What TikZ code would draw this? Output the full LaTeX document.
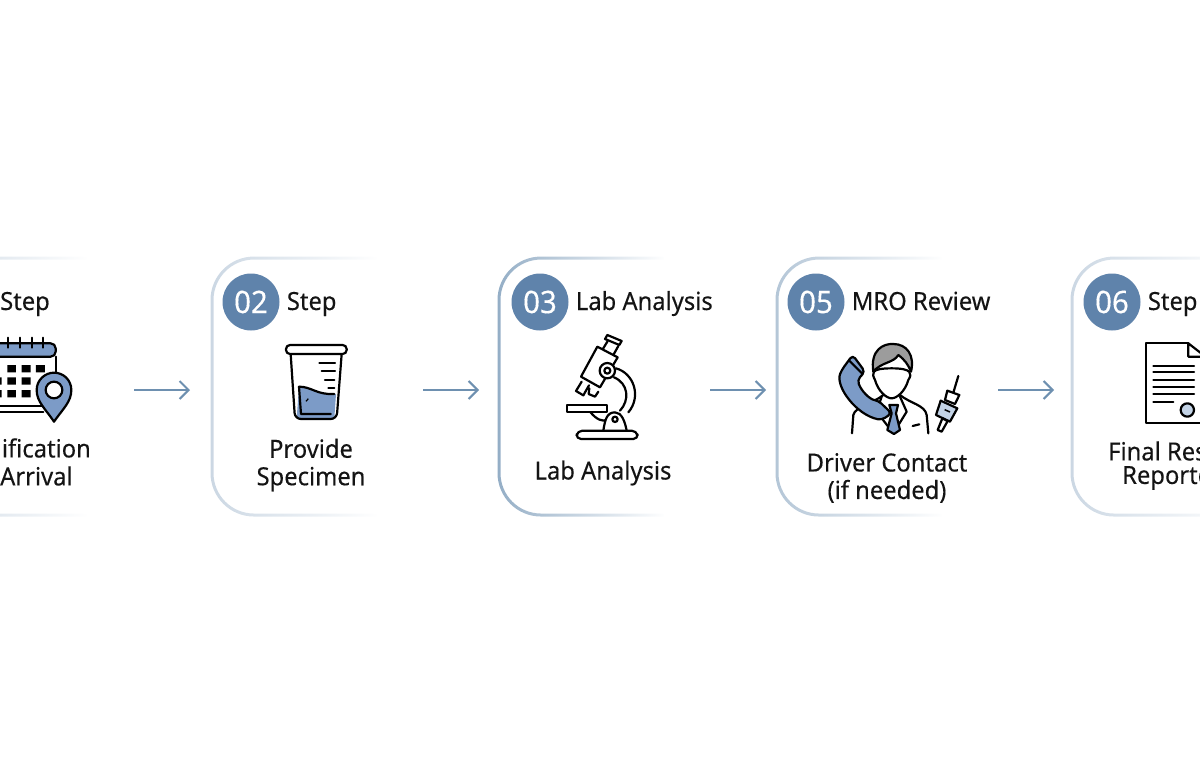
\documentclass[tikz,border=0pt]{standalone}
\usepackage{fontspec}
\setmainfont{Noto Sans}[FakeBold=0.25, FakeStretch=0.95]
\usetikzlibrary{positioning,arrows.meta,fadings}
\definecolor{cdpale}{HTML}{CBD7E3}
\definecolor{cdmid}{HTML}{B4C6D7}
\definecolor{cddark}{HTML}{94AEC6}
\definecolor{cmbadge}{HTML}{5F83AB}
\definecolor{cmicon}{HTML}{7C9BC7}
\definecolor{cmarrow}{HTML}{6E90B0}
\definecolor{cmink}{HTML}{141414}
\definecolor{cmhair}{HTML}{9C9C9C}
\definecolor{cmpale}{HTML}{C3D3E6}
\tikzfading[name=cardfade, left color=transparent!0, middle color=transparent!0, right color=transparent!100]
% card outline: left edge x, colour
\newcommand{\stepcard}[2]{
  \draw[line width=3pt, color=#2, rounded corners=42pt, path fading=cardfade] (#1+165,258) -- (#1,258) -- (#1,515) -- (#1+165,515);
}
\begin{document}
\begin{tikzpicture}[
  x=1pt, y=-1pt,
  node distance=7pt,
  badge/.style={circle, fill=cmbadge, text=white, minimum size=57pt, inner sep=0pt, font=\fontsize{31}{32}\selectfont},
  headtext/.style={inner sep=0pt, text=cmink, text height=18pt, text depth=2pt, font=\fontsize{25}{28}\selectfont},
  bodytext/.style={inner sep=0pt, text=cmink, align=center, font=\fontsize{25}{27.5}\selectfont},
  arr/.style={-{Straight Barb[length=9pt,width=18pt]}, line width=2pt, color=cmarrow},
  iconline/.style={line width=2.2pt, color=black, line join=round, line cap=round},
  iconzoom/.style={scale=1/3}
]
\useasboundingbox (0,0) rectangle (1200,768);

\stepcard{-78}{cdpale}
\stepcard{212}{cdpale}
\stepcard{499}{cddark}
\stepcard{777}{cdmid}
\stepcard{1072}{cdpale}

% headers
\node[headtext, anchor=west] (stepa) at (0,302) {Step};
\node[badge] (badgeb) at (251,302) {02};
\node[headtext, right=of badgeb] (stepb) {Step};
\node[badge] (badgec) at (540,302) {03};
\node[headtext, right=of badgec] (stepc) {Lab Analysis};
\node[badge] (badged) at (816,302) {05};
\node[headtext, right=of badged] (stepd) {MRO Review};
\node[badge] (badgee) at (1112,302) {06};
\node[headtext, right=of badgee] (stepe) {Step};

% body labels
\node[bodytext, anchor=east] (nota) at (91,448) {ification};
\node[bodytext, anchor=west] (arra) at (0,476) {Arrival};
\node[bodytext] (spec) at (311,465) {Provide\\Specimen};
\node[bodytext] (lab) at (603,473) {Lab Analysis};
\node[bodytext] (drv) at (887,478) {Driver Contact\\(if needed)};
\node[bodytext, anchor=west] (resa) at (1108,451) {Final Res};
\node[bodytext, anchor=west] (resb) at (1122,478) {Reporte};

% arrows
\coordinate (ga) at (134,390);
\coordinate (gb) at (190,390);
\coordinate (gc) at (423,390);
\coordinate (gd) at (479,390);
\coordinate (ge) at (710,390);
\coordinate (gf) at (766,390);
\coordinate (gg) at (998,390);
\coordinate (gh) at (1054,390);
\draw[arr] (ga) -- (gb);
\draw[arr] (gc) -- (gd);
\draw[arr] (ge) -- (gf);
\draw[arr] (gg) -- (gh);

% calendar and pin
\begin{scope}[shift={(0,240)}, iconzoom]
\draw[iconline] (167,350) -- (167,410);
\draw[iconline] (-40,497) -- (130,497) (-40,515) -- (130,515);
\draw[iconline, fill=cmicon, rounded corners=5pt] (-40,350) -- (-40,310) -- (167,310) -- (167,350) -- cycle;
\draw[iconline] (25,293) -- (25,323) (60,293) -- (60,323) (95,293) -- (95,323) (130,293) -- (130,323);
\fill[black] (22,375) rectangle (48,397) (65,375) rectangle (92,397) (108,375) rectangle (135,397)
  (-20,412) rectangle (5,434) (22,412) rectangle (48,434) (65,412) rectangle (92,434)
  (-20,450) rectangle (5,472) (22,450) rectangle (48,472) (65,450) rectangle (92,472);
\draw[iconline, fill=cmicon] (162,545) .. controls (135,505) and (110,485) .. (110,450)
  .. controls (110,420) and (135,398) .. (162,398) .. controls (190,398) and (214,420) .. (214,450)
  .. controls (214,485) and (190,505) .. (162,545) -- cycle;
\draw[iconline, fill=white] (162,450) circle[radius=25];
\end{scope}

% beaker
\begin{scope}[shift={(0,240)}, iconzoom]
\fill[cmicon] (897,440) .. controls (935,440) and (950,465) .. (1008,462) -- (1003,535) -- (890,535) -- cycle;
\draw[iconline, rounded corners=6pt] (872,342) -- (885,537) -- (1010,537) -- (1025,342);
\draw[iconline, fill=white, rounded corners=4pt] (858,315) rectangle (1040,342);
\draw[iconline] (897,440) -- (903,522) -- (992,522);
\draw[iconline] (958,368) -- (1005,368) (965,392) -- (1005,392) (975,420) -- (1003,420) (985,443) -- (1003,443);
\draw[iconline] (897,440) .. controls (935,440) and (950,465) .. (1003,462);
\draw[black, line width=1.2pt] (918,484) -- (925,476);
\end{scope}

% microscope
\begin{scope}[shift={(490,240)}, iconzoom]
\draw[iconline] (378,385) .. controls (432,400) and (455,470) .. (415,517);
\draw[iconline] (372,412) .. controls (415,430) and (420,480) .. (390,512);
\draw[iconline] (300,515) .. controls (320,540) and (338,545) .. (350,540);
\draw[iconline] (322,320) -- (383,352) -- (330,442) -- (273,410) -- cycle;
\draw[iconline] (345,297) -- (352,285) -- (395,303) -- (388,315) -- cycle;
\draw[iconline] (352,305) -- (338,328) (385,318) -- (370,345);
\draw[iconline] (275,425) -- (258,453) -- (280,466) -- (297,436);
\draw[iconline] (298,445) -- (296,462) -- (315,470) -- (325,455);
\draw[iconline, fill=white] (352,392) circle[radius=23];
\draw[iconline] (352,392) circle[radius=9];
\draw[iconline, fill=white] (232,495) rectangle (352,515);
\draw[iconline, fill=white] (340,572) .. controls (345,540) and (350,517) .. (375,517) .. controls (395,517) and (405,545) .. (410,572);
\draw[iconline] (375,538) circle[radius=8];
\draw[iconline, rounded corners=5pt] (258,597) -- (262,572) -- (440,572) -- (445,597) -- cycle;
\end{scope}

% driver contact figure
\begin{scope}[shift={(770,240)}, iconzoom]
\draw[iconline] (246,580) -- (250,525) .. controls (255,500) and (310,490) .. (340,465);
\draw[iconline] (390,465) .. controls (420,490) and (465,495) .. (470,525) -- (475,580);
\draw[iconline] (335,470) -- (320,515) -- (370,580) -- (410,515) -- (390,470);
\draw[iconline, fill=cmicon] (358,495) -- (384,495) -- (378,520) -- (390,570) -- (372,582) -- (352,570) -- (365,520) -- cycle;
\draw[iconline, fill=cmicon, rounded corners=4pt] (248,345) -- (285,395) -- (262,420)
  .. controls (275,455) and (300,478) .. (325,482) -- (365,520) -- (335,540)
  .. controls (260,525) and (195,440) .. (215,390) -- cycle;
\draw[iconline] (238,362) -- (278,402);
\draw[iconline] (428,558) -- (448,553);
\draw[iconline, fill=white] (365,385) .. controls (300,385) and (305,400) .. (315,420)
  .. controls (325,455) and (350,475) .. (365,475) .. controls (380,475) and (405,455) .. (415,420)
  .. controls (428,400) and (425,385) .. (365,385);
\draw[iconline, fill=cmhair] (310,395) .. controls (300,330) and (340,310) .. (370,312)
  .. controls (410,312) and (435,345) .. (423,395) .. controls (415,375) and (405,360) .. (385,345)
  .. controls (370,370) and (335,365) .. (310,395) -- cycle;
\draw[iconline] (565,408) -- (550,458);
\draw[iconline, fill=white] (532,452) -- (568,465) -- (555,492) -- (525,480) -- cycle;
\draw[iconline, fill=cmpale] (512,482) -- (562,505) -- (540,545) -- (498,525) -- cycle;
\draw[iconline, fill=white] (517,535) -- (533,543) -- (515,575) -- (503,570) -- cycle;
\draw[black, line width=1.5pt] (524,509) -- (540,516);
\end{scope}

% report page
\begin{scope}[shift={(770,240)}, iconzoom]
\draw[iconline] (1255,310) -- (1127,310) -- (1127,550) -- (1300,550);
\draw[iconline] (1255,310) -- (1255,350) -- (1300,350) (1255,310) -- (1300,345);
\draw[iconline] (1150,377) -- (1272,377) (1150,397) -- (1272,397) (1150,420) -- (1272,420) (1150,440) -- (1272,440) (1150,462) -- (1272,462) (1150,485) -- (1210,485);
\draw[iconline, fill=cmpale] (1252,510) circle[radius=20];
\end{scope}
\end{tikzpicture}
\end{document}
